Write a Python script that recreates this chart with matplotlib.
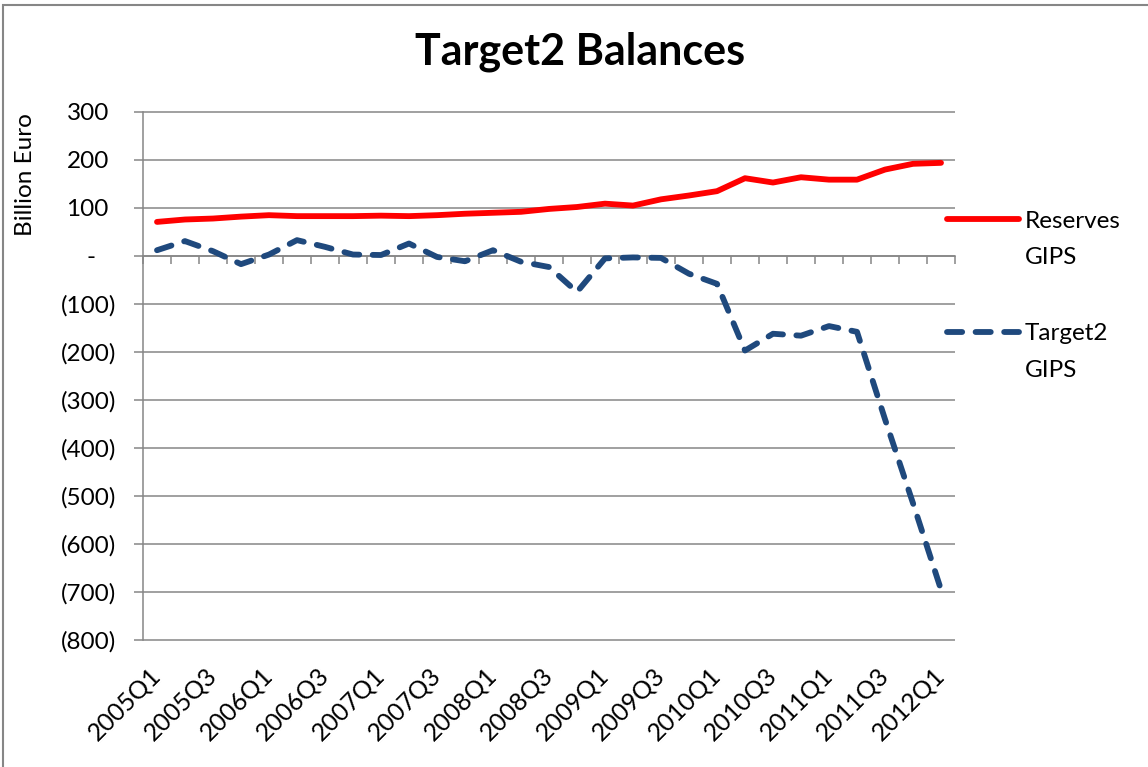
import matplotlib
matplotlib.use("Agg")
import matplotlib.pyplot as plt
from matplotlib.lines import Line2D
from matplotlib.patches import Rectangle
from matplotlib.transforms import ScaledTranslation

plt.rcParams['font.family'] = ['Lato', 'DejaVu Sans']

# quarterly categories, 2005Q1 .. 2012Q1
quarters = ["2005Q1", "2005Q2", "2005Q3", "2005Q4",
            "2006Q1", "2006Q2", "2006Q3", "2006Q4",
            "2007Q1", "2007Q2", "2007Q3", "2007Q4",
            "2008Q1", "2008Q2", "2008Q3", "2008Q4",
            "2009Q1", "2009Q2", "2009Q3", "2009Q4",
            "2010Q1", "2010Q2", "2010Q3", "2010Q4",
            "2011Q1", "2011Q2", "2011Q3", "2011Q4",
            "2012Q1"]

# billion euro
reserves_gips = [71, 76, 78, 82, 85, 83, 83, 83, 84, 83, 85, 88, 90, 92, 98,
                 102, 109, 105, 118, 126, 135, 162, 153, 164, 159, 159, 180, 192, 194]
target2_gips = [12, 31, 10, -17, 3, 33, 19, 3, 2, 26, -2, -11, 12, -12, -23,
                -75, -5, -3, -4, -37, -58, -197, -162, -166, -146, -158, -340, -515, -695]

yticks = [300, 200, 100, 0, -100, -200, -300, -400, -500, -600, -700, -800]
ytick_labels = ["300", "200", "100", "-", "(100)", "(200)", "(300)", "(400)",
                "(500)", "(600)", "(700)", "(800)"]

W, H = 1148, 767
fig = plt.figure(figsize=(W / 100, H / 100), dpi=100)
ax = fig.add_axes([143 / W, 1 - 641 / H, (955 - 143) / W, (641 - 111) / H])

grey = "#868686"
red = "#FF0000"
blue = "#1F497D"
lw = 4.2
dash = (2.6, 2.3)
n = len(quarters)
xc = [i + 0.5 for i in range(n)]

ax.plot(xc, reserves_gips, color=red, lw=lw, solid_capstyle="round",
        solid_joinstyle="round", zorder=3)
ax.plot(xc, target2_gips, color=blue, lw=lw, dashes=dash,
        dash_capstyle="round", dash_joinstyle="round", zorder=3)

ax.set_xlim(0, n)
ax.set_ylim(-802, 302)
ax.set_yticks(yticks)
ax.set_yticklabels(ytick_labels)
ax.yaxis.grid(True, color=grey, lw=1.1)
ax.set_axisbelow(True)

for s in ["top", "right"]:
    ax.spines[s].set_visible(False)
ax.spines["left"].set_color(grey)
ax.spines["left"].set_linewidth(1.1)
ax.spines["left"].set_bounds(-800, 300)
ax.spines["bottom"].set_position(("data", 0))
ax.spines["bottom"].set_color(grey)
ax.spines["bottom"].set_linewidth(1.1)

ax.set_xticks(range(n + 1))
ax.set_xticklabels([])
ax.tick_params(axis="x", length=6, width=1.1, color=grey, direction="out")
ax.tick_params(axis="y", length=6.5, width=1.1, color=grey, direction="out",
               labelsize=17.5, pad=13)

# accounting-style alignment: positives sit left of the closing paren
for lab, txt in zip(ax.get_yticklabels(), ytick_labels):
    if txt == "-":
        dx = -20
    elif not txt.startswith("("):
        dx = -7
    else:
        dx = 0
    lab.set_transform(lab.get_transform() + ScaledTranslation(dx / 100, 0, fig.dpi_scale_trans))

# rotated category labels under the plot (every second quarter)
sec = ax.secondary_xaxis(0)
sec.spines["bottom"].set_visible(False)
sec.set_xticks(xc[::2])
sec.set_xticklabels(quarters[::2], rotation=45, ha="right", va="center",
                    rotation_mode="anchor", fontsize=17.8)
sec.tick_params(axis="x", length=0, pad=22)

fig.text(580 / W, 1 - 52 / H, "Target2 Balances", ha="center", va="center",
         fontsize=31, fontweight="bold")
fig.text(26 / W, 1 - 175 / H, "Billion Euro", ha="center", va="center",
         rotation=90, fontsize=17.5)

# legend at the right
fig.add_artist(Line2D([947 / W, 1019 / W], [1 - 219 / H, 1 - 219 / H],
                      transform=fig.transFigure, color=red, lw=lw,
                      solid_capstyle="round"))
fig.add_artist(Line2D([947 / W, 1019 / W], [1 - 332 / H, 1 - 332 / H],
                      transform=fig.transFigure, color=blue, lw=lw,
                      dashes=dash, dash_capstyle="round"))
for txt, yb in [("Reserves", 227.5), ("GIPS", 264.5), ("Target2", 340.5), ("GIPS", 377)]:
    fig.text(1025 / W, 1 - yb / H, txt, ha="left", va="baseline", fontsize=17.5)

fig.add_artist(Rectangle((2.5 / W, -0.02), 1.05, 1 - 5 / H + 0.02,
                         transform=fig.transFigure, fill=False,
                         edgecolor=grey, lw=1.5))

fig.savefig("out.png", dpi=100)
